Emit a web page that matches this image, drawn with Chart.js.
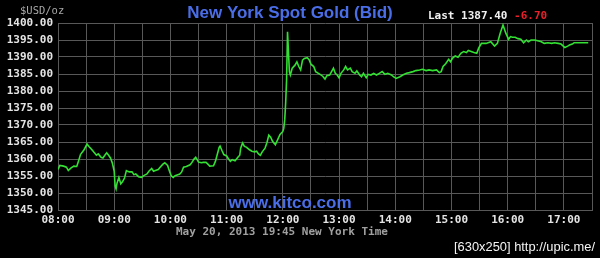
<!DOCTYPE html>
<html>
<head>
<meta charset="utf-8">
<script src="https://cdn.jsdelivr.net/npm/chart.js@4"></script>
<style>
html,body{margin:0;padding:0;background:#000;}
#wrap{width:600px;height:258px;position:relative;}
</style>
</head>
<body>
<div id="wrap"><canvas id="c" width="600" height="258"></canvas></div>
<script>
// Minutes after 08:00 (New York time)
const minutes = [0,2,6,9,11,14,17,20,22,24,28,31,33,36,38,41,43,46,48,50,52,54,56,58,60,61,62,63,65,67,69,71,73,76,79,81,83,86,89,92,95,97,100,102,104,107,109,112,114,117,119,121,123,125,128,130,132,134,137,141,143,145,147,149,150,153,155,158,160,162,166,168,170,172,173,175,177,180,182,184,186,189,192,194,195,197,199,201,204,207,210,212,214,216,218,221,223,225,227,229,232,234,237,
240,241,242,243,244,245,247,248,250,253,255,257,259,261,263,266,268,270,273,275,278,281,283,285,287,290,292,294,296,298,300,302,305,307,309,312,314,317,319,322,324,326,329,331,334,337,340,343,346,349,352,356,358,361,365,368,372,375,379,382,386,389,393,396,400,404,407,409,411,414,417,419,421,424,427,430,433,436,438,441,444,447,449,452,457,462,466,469,472,475,478,481,483,485,488,491,494,497,500,502,505,509,512,516,519,523,527,530,534,537,541,544,546,549,551,555,558,562,566,569];
const prices = [1356.9,1358.1,1357.9,1357.6,1356.6,1357.4,1357.9,1357.8,1359.5,1361.3,1362.8,1364.4,1363.7,1362.8,1362.1,1361.1,1361.5,1360.5,1360.3,1361.1,1361.8,1361.1,1360.3,1358.8,1356.4,1352.0,1351.2,1352.9,1354.6,1352.7,1353.4,1354.4,1356.6,1356.2,1356.2,1355.4,1355.6,1354.8,1354.6,1355.2,1355.6,1356.4,1357.2,1356.4,1356.6,1356.9,1357.6,1358.5,1358.9,1358.1,1356.4,1355.0,1354.6,1355.1,1355.4,1355.6,1356.2,1357.6,1357.8,1358.3,1359.0,1359.9,1360.5,1359.6,1359.1,1358.9,1359.0,1359.0,1358.5,1357.9,1358.0,1359.3,1361.3,1363.4,1363.8,1362.5,1361.3,1360.9,1360.0,1359.3,1359.8,1359.5,1360.5,1361.1,1363.2,1364.7,1363.7,1363.5,1362.8,1362.3,1362.1,1362.3,1361.5,1361.1,1362.1,1363.2,1364.8,1367.0,1366.4,1365.2,1364.2,1365.4,1367.2,
1368.1,1369.0,1371.5,1376.4,1383.2,1397.4,1385.7,1384.7,1386.7,1387.6,1388.6,1387.2,1386.2,1389.1,1389.6,1389.8,1389.2,1387.9,1387.2,1385.7,1385.2,1384.7,1384.2,1383.5,1384.5,1384.7,1385.7,1386.7,1385.2,1384.7,1383.9,1385.2,1386.2,1387.2,1386.2,1386.7,1385.7,1385.2,1385.9,1384.7,1384.2,1385.2,1383.9,1384.9,1384.7,1385.2,1384.7,1385.2,1385.7,1384.9,1385.2,1384.7,1384.2,1383.7,1384.2,1384.7,1385.2,1385.4,1385.7,1386.0,1386.2,1386.4,1386.0,1386.2,1386.0,1386.2,1385.4,1385.7,1387.2,1388.1,1389.3,1388.6,1389.6,1390.3,1389.9,1391.1,1391.6,1391.3,1391.9,1391.6,1391.3,1391.1,1392.6,1394.0,1394.0,1394.5,1393.2,1394.0,1397.0,1399.4,1397.0,1395.2,1396.0,1395.8,1395.8,1395.4,1395.2,1394.2,1395.0,1394.5,1395.0,1395.0,1394.8,1394.5,1394.0,1394.2,1394.0,1394.2,1394.0,1393.8,1392.8,1393.2,1393.5,1393.8,1394.2,1394.2,1394.2,1394.2,1394.2];
// Tick settings
const xMin = 0, xMax = 570, xStep = 30;
const yMin = 1345, yMax = 1400, yStep = 5;
const startHour = 8;
const titleText = 'New York Spot Gold (Bid)';
const unitText = '$USD/oz';
const lastLabel = 'Last 1387.40';
const changeLabel = '-6.70';
const siteText = 'www.kitco.com';
const footerText = 'May 20, 2013 19:45 New York Time';
const stampText = '[630x250] http://upic.me/';

const points = minutes.map((m, i) => ({x: m, y: prices[i]}));
const GRID = '#585858';
const MONO = '"DejaVu Sans Mono", "Liberation Mono", monospace';
const SANS = '"Liberation Sans", Arial, sans-serif';

const overlay = {
  id: 'overlay',
  afterDraw(chart) {
    const ctx = chart.ctx;
    ctx.save();
    ctx.textBaseline = 'alphabetic';
    // title
    ctx.font = 'bold 17px ' + SANS;
    ctx.fillStyle = '#4a6ee8';
    ctx.textAlign = 'center';
    ctx.fillText(titleText, 290, 18);
    // unit
    ctx.font = '10.5px ' + MONO;
    ctx.fillStyle = '#a8a8a8';
    ctx.textAlign = 'left';
    ctx.fillText(unitText, 20, 14);
    // last
    ctx.font = 'bold 11px ' + MONO;
    ctx.fillStyle = '#f0f0f0';
    ctx.fillText(lastLabel, 428, 19);
    const w = ctx.measureText(lastLabel + ' ').width;
    ctx.fillStyle = '#e8202a';
    ctx.fillText(changeLabel, 428 + w, 19);
    // site
    ctx.font = 'bold 17px ' + SANS;
    ctx.fillStyle = '#4a6ee8';
    ctx.textAlign = 'center';
    ctx.fillText(siteText, 290, 208);
    // footer
    ctx.font = 'bold 11px ' + MONO;
    ctx.fillStyle = '#a0a0a0';
    ctx.textAlign = 'left';
    ctx.fillText(footerText, 176, 235);
    // stamp
    ctx.font = '12px ' + SANS;
    ctx.fillStyle = '#f4f4f4';
    const sw = ctx.measureText(stampText).width;
    ctx.translate(454, 251);
    ctx.scale(141 / sw, 1);
    ctx.fillText(stampText, 0, 0);
    ctx.restore();
  }
};

new Chart(document.getElementById('c'), {
  type: 'line',
  data: {
    datasets: [{
      data: points,
      borderColor: '#33e033',
      borderWidth: 1.6,
      pointRadius: 0,
      tension: 0,
      fill: false
    }]
  },
  options: {
    responsive: false,
    animation: false,
    events: [],
    layout: {padding: {top: 23, right: 8, left: 0, bottom: 0}},
    plugins: {legend: {display: false}, tooltip: {enabled: false}, title: {display: false}},
    scales: {
      x: {
        type: 'linear',
        min: xMin, max: xMax,
        afterBuildTicks(s) {
          const t = [];
          for (let v = xMin; v <= xMax; v += xStep) t.push({value: v});
          s.ticks = t;
        },
        afterFit(s) { s.height = 48; },
        grid: {color: GRID, lineWidth: 1, drawTicks: false},
        border: {display: true, color: GRID},
        ticks: {
          autoSkip: false, maxRotation: 0, minRotation: 0, padding: 4,
          color: '#e4e4e4',
          font: {family: MONO, size: 11, weight: 'bold'},
          callback(v) {
            if (v % 60 !== 0) return '';
            const h = startHour + v / 60;
            return String(h).padStart(2, '0') + ':00';
          }
        }
      },
      y: {
        min: yMin, max: yMax,
        afterFit(s) { s.width = 58; },
        grid: {color: GRID, lineWidth: 1, drawTicks: false},
        border: {display: true, color: GRID},
        ticks: {
          stepSize: yStep, padding: 5,
          color: '#e4e4e4',
          font: {family: MONO, size: 11, weight: 'bold'},
          callback(v) { return Number(v).toFixed(2); }
        }
      }
    }
  },
  plugins: [overlay]
});
</script>
</body>
</html>
